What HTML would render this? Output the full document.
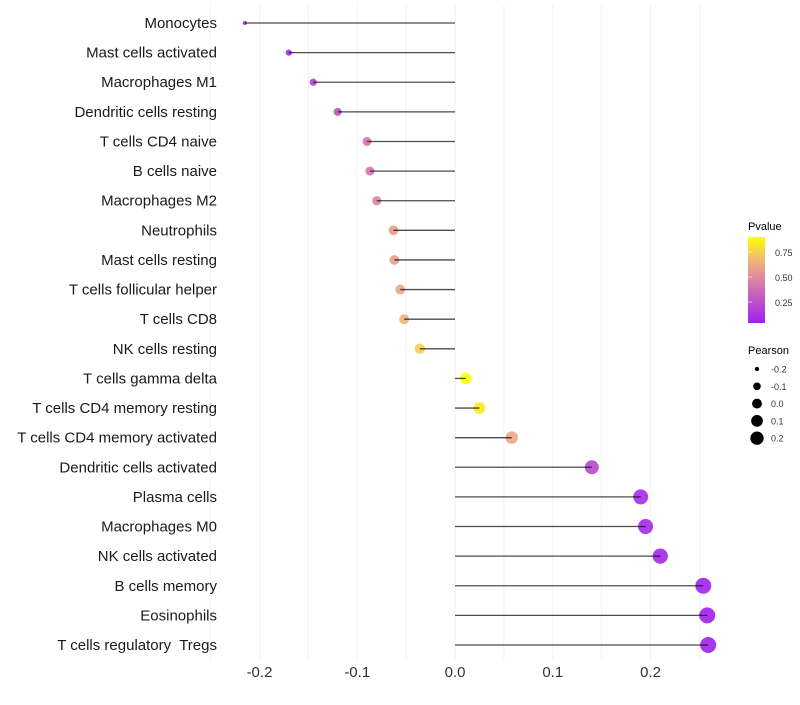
<!DOCTYPE html>
<html><head><meta charset="utf-8"><style>
body{margin:0;background:#fff;}
svg{font-family:"Liberation Sans",sans-serif;}
</style></head><body>
<svg id="chart" width="800" height="700" xmlns="http://www.w3.org/2000/svg">
<g id="grid"></g>
<g id="dots"></g>
<g id="marks"></g>
<g id="ylabels"></g>
<g id="xlabels"></g>
<g id="legend">
<defs><linearGradient id="pg" x1="0" y1="1" x2="0" y2="0">
<stop offset="0" stop-color="#a020f0"/><stop offset="0.45" stop-color="#d778aa"/><stop offset="0.72" stop-color="#f0b47a"/><stop offset="1" stop-color="#ffff00"/></linearGradient></defs>
<text x="748" y="230" font-size="11" fill="#000">Pvalue</text>
<rect x="748" y="237" width="17" height="86" fill="url(#pg)"/>
<g id="pticks"></g>
<text x="748" y="354" font-size="11" fill="#000">Pearson</text>
<g id="sizeleg"></g>
</g>
</svg>
<script>
const categories=["Monocytes","Mast cells activated","Macrophages M1","Dendritic cells resting","T cells CD4 naive","B cells naive","Macrophages M2","Neutrophils","Mast cells resting","T cells follicular helper","T cells CD8","NK cells resting","T cells gamma delta","T cells CD4 memory resting","T cells CD4 memory activated","Dendritic cells activated","Plasma cells","Macrophages M0","NK cells activated","B cells memory","Eosinophils","T cells regulatory  Tregs"];
const pearson=[-0.215,-0.17,-0.145,-0.12,-0.09,-0.087,-0.08,-0.063,-0.062,-0.056,-0.052,-0.036,0.011,0.025,0.058,0.14,0.19,0.195,0.21,0.254,0.258,0.259];
const pvalues=[0.03,0.08,0.15,0.25,0.4,0.42,0.47,0.58,0.58,0.62,0.66,0.76,0.92,0.85,0.62,0.2,0.07,0.06,0.05,0.02,0.02,0.02];
const xTicks=[-0.2,-0.1,0.0,0.1,0.2];
const xTickLabels=["-0.2","-0.1","0.0","0.1","0.2"];
const pTicks=[0.25,0.5,0.75];
const pTickLabels=["0.25","0.50","0.75"];
const sizeVals=[-0.2,-0.1,0.0,0.1,0.2];
const sizeLabels=["-0.2","-0.1","0.0","0.1","0.2"];

const NS="http://www.w3.org/2000/svg";
const x=v=>455+v*977.5;
const y=i=>23+i*(622/21);
const r=v=>Math.sqrt(Math.max(2,31.5+128*v));
const pMin=0.02,pMax=0.92;
const stops=[[0,[160,32,240]],[0.45,[215,120,170]],[0.72,[240,180,122]],[1,[255,255,0]]];
function col(p){let t=(p-pMin)/(pMax-pMin);t=Math.max(0,Math.min(1,t));
 for(let k=1;k<stops.length;k++){if(t<=stops[k][0]){const a=stops[k-1],b=stops[k];const u=(t-a[0])/(b[0]-a[0]);
  return `rgb(${a[1].map((c,j)=>Math.round(c+(b[1][j]-c)*u)).join(',')})`;}}
 return 'rgb(255,255,0)';}
function mk(tag,attrs,parent){const e=document.createElementNS(NS,tag);for(const k in attrs)e.setAttribute(k,attrs[k]);parent.appendChild(e);return e;}
const grid=document.getElementById('grid');
for(let v=-0.25;v<=0.2501;v+=0.05){
 const ln=mk('line',{x1:x(v),x2:x(v),y1:5,y2:660,stroke:'#f2f2f2','stroke-width':1},grid);
 
 
}
const marks=document.getElementById('marks'),dots=document.getElementById('dots'),yl=document.getElementById('ylabels');
categories.forEach((c,i)=>{
 const d=mk('circle',{cx:x(pearson[i]),cy:y(i),r:r(pearson[i]),fill:col(pvalues[i]),'fill-opacity':0.9},dots);
 
 
 const ln=mk('line',{x1:x(0),x2:x(pearson[i]),y1:y(i),y2:y(i),stroke:'#000','stroke-opacity':0.7,'stroke-width':1.3},marks);
 
 
 const t=mk('text',{x:217,y:y(i)+5,'text-anchor':'end','font-size':15,fill:'#1a1a1a'},yl);
 t.setAttribute('style','white-space:pre');
 t.textContent=c;
 
 
});
const xl=document.getElementById('xlabels');
xTicks.forEach((v,i)=>{
 const t=mk('text',{x:x(v),y:677,'text-anchor':'middle','font-size':15,fill:'#333'},xl);
 t.textContent=xTickLabels[i];
 
 
});
const pt=document.getElementById('pticks');
const py=p=>323-(p-0.04)*100;
pTicks.forEach((p,i)=>{
 const t=mk('text',{x:775,y:py(p)+4,'font-size':9,fill:'#333'},pt);
 t.textContent=pTickLabels[i];
 
 
 const l=mk('line',{x1:748,x2:752,y1:py(p),y2:py(p),stroke:'#fff','stroke-opacity':0.6},pt);
 
 
});
const sl=document.getElementById('sizeleg');
sizeVals.forEach((v,i)=>{
 const cy=369+i*17.3;
 const c=mk('circle',{cx:757,cy:cy,r:r(v)*0.88,fill:'#000'},sl);
 
 
 const t=mk('text',{x:771,y:cy+3.5,'font-size':9,fill:'#333'},sl);
 t.textContent=sizeLabels[i];
 
 
});
</script>
</body></html>
